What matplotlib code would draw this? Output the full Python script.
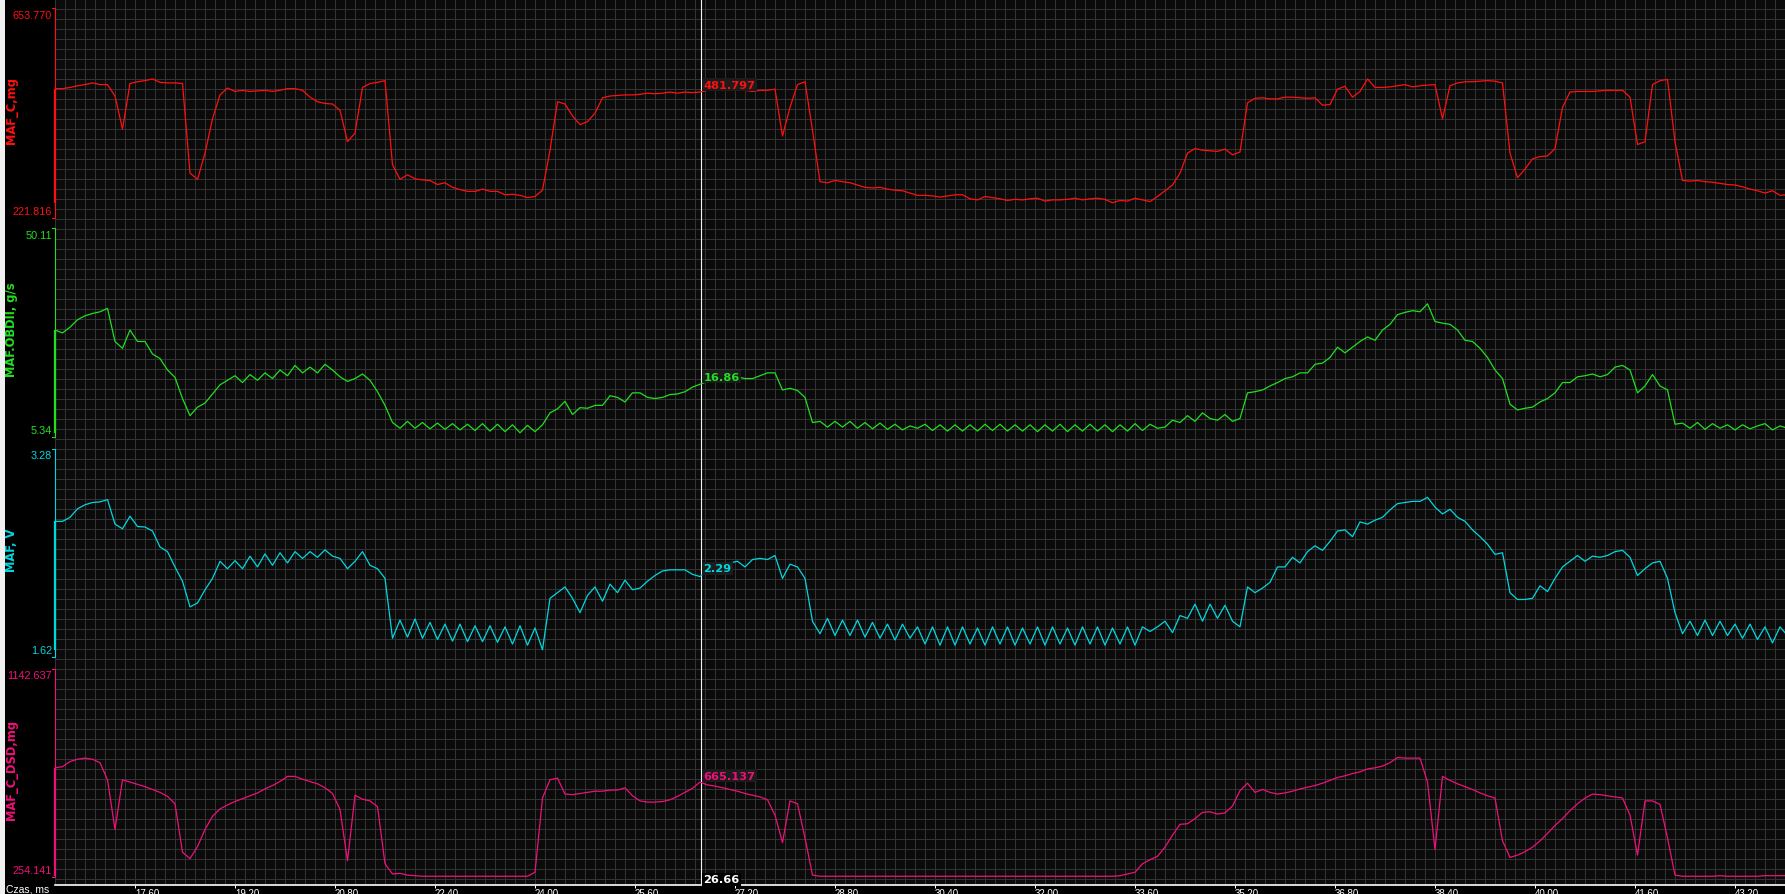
import numpy as np
import matplotlib
matplotlib.use("Agg")
import matplotlib.pyplot as plt
from matplotlib.patches import Rectangle
from matplotlib.transforms import blended_transform_factory

# ---------------- data ----------------
T0 = 16.32      # ms, first sample
DT = 0.12       # ms, sample interval

maf_c = [
    488.3, 488.3, 490.7, 494.2, 496.6, 500.1, 496.6, 496.6, 473.1, 404.9,
    498.9, 502.5, 504.8, 508.3, 501.3, 500.1, 500.1, 498.9, 314.3, 301.4,
    355.5, 426.0, 475.4, 489.5, 482.5, 484.8, 482.5, 483.6, 484.8, 482.5,
    484.8, 488.3, 488.3, 484.8, 470.7, 461.3, 457.8, 456.6, 443.7, 379.0,
    396.6, 490.7, 498.9, 501.3, 504.8, 332.0, 301.4, 310.8, 302.6, 300.2,
    299.1, 290.8, 294.4, 285.0, 280.3, 276.7, 276.7, 281.4, 276.7, 276.7,
    269.7, 270.8, 268.5, 263.8, 266.1, 279.1, 361.4, 461.3, 456.6, 431.9,
    414.3, 420.2, 437.8, 469.5, 473.1, 474.2, 475.4, 475.4, 476.6, 478.9,
    477.8, 478.9, 481.3, 478.9, 481.3, 480.1, 481.3, 484.8, 484.8, 487.2,
    484.8, 488.3, 484.8, 482.5, 484.8, 484.8, 487.2, 390.8, 449.6, 496.6,
    502.5, 402.5, 296.7, 294.4, 299.1, 296.7, 294.4, 289.7, 285.0, 283.8,
    285.0, 281.4, 279.1, 277.9, 273.2, 268.5, 268.5, 267.3, 265.0, 267.3,
    269.7, 269.7, 261.4, 259.1, 266.1, 263.8, 261.4, 257.9, 260.3, 259.1,
    261.4, 262.6, 256.7, 259.1, 259.1, 260.3, 262.6, 259.1, 261.4, 262.6,
    260.3, 253.2, 257.9, 256.7, 262.6, 259.1, 255.6, 266.1, 277.9, 289.7,
    314.3, 355.5, 364.9, 361.4, 360.2, 359.0, 363.7, 352.0, 357.8, 459.0,
    468.4, 469.5, 467.2, 467.2, 470.7, 470.7, 469.5, 468.4, 469.5, 454.3,
    455.4, 487.2, 493.1, 470.7, 482.5, 508.3, 490.7, 490.7, 491.9, 494.2,
    496.6, 491.9, 494.2, 495.4, 496.6, 426.0, 494.2, 500.1, 502.5, 502.5,
    503.6, 504.8, 503.6, 500.1, 355.5, 304.9, 322.6, 343.7, 348.4, 349.6,
    364.9, 449.6, 481.3, 482.5, 482.5, 482.5, 483.6, 484.8, 484.8, 484.8,
    470.7, 373.1, 379.0, 496.6, 504.8, 507.2, 379.0, 299.1, 297.9, 299.1,
    296.7, 295.5, 293.2, 290.8, 289.7, 286.1, 281.4, 277.9, 273.2, 277.9,
    268.5, 269.7,
]

maf_obd = [
    28.31, 27.69, 28.92, 30.51, 31.37, 31.86, 32.23, 32.96, 25.85, 24.38,
    28.31, 25.85, 25.85, 23.16, 22.18, 19.73, 18.13, 13.60, 9.92, 11.76,
    12.62, 14.58, 16.54, 17.52, 18.50, 17.03, 18.75, 17.52, 19.11, 17.89,
    19.73, 18.50, 20.71, 19.11, 20.34, 19.11, 20.95, 19.73, 18.26, 17.27,
    17.89, 18.87, 17.52, 15.07, 12.13, 8.45, 7.22, 8.70, 7.22, 8.45,
    7.10, 8.33, 6.98, 8.21, 6.86, 8.08, 6.73, 8.21, 6.61, 8.08,
    6.49, 7.96, 6.24, 7.84, 6.49, 7.96, 10.53, 11.39, 12.99, 10.17,
    11.64, 11.51, 12.13, 12.13, 14.21, 13.84, 12.86, 14.82, 14.82, 13.84,
    13.60, 13.84, 14.46, 14.58, 15.07, 16.05, 16.66, 17.27, 17.52, 17.89,
    17.52, 18.26, 17.89, 17.89, 18.50, 19.11, 19.11, 15.44, 15.80, 15.31,
    13.84, 8.45, 8.70, 7.47, 8.70, 7.47, 8.70, 7.22, 8.45, 7.10,
    8.33, 6.98, 8.08, 6.86, 7.72, 7.22, 8.08, 6.73, 7.96, 6.61,
    7.96, 6.61, 7.96, 6.61, 8.08, 6.73, 8.08, 6.61, 7.96, 6.61,
    7.96, 6.49, 7.96, 6.61, 8.08, 6.49, 7.96, 6.61, 8.08, 6.61,
    7.96, 6.49, 7.96, 6.61, 8.21, 6.73, 8.08, 7.22, 7.47, 8.94,
    8.45, 9.92, 8.70, 10.53, 9.31, 8.94, 10.17, 8.70, 9.31, 14.82,
    15.07, 15.44, 16.29, 17.03, 17.89, 18.26, 19.11, 19.11, 20.95, 21.20,
    22.42, 24.63, 23.40, 24.63, 25.85, 26.83, 26.10, 28.31, 29.53, 31.61,
    32.10, 32.47, 32.23, 33.94, 30.14, 29.78, 29.53, 28.31, 26.10, 25.85,
    24.38, 22.42, 19.73, 17.89, 12.37, 11.15, 11.51, 11.76, 12.86, 13.60,
    14.82, 17.03, 17.03, 18.26, 18.50, 18.87, 18.26, 18.75, 20.34, 20.71,
    19.73, 14.82, 16.29, 18.75, 16.29, 15.44, 8.08, 8.33, 7.22, 8.45,
    6.98, 8.21, 7.22, 7.96, 6.86, 7.96, 7.10, 7.72, 8.21, 6.86,
    7.72, 7.22,
]

maf_v = [
    2.700, 2.700, 2.732, 2.800, 2.832, 2.850, 2.855, 2.873, 2.678, 2.641,
    2.741, 2.659, 2.655, 2.623, 2.496, 2.459, 2.337, 2.223, 2.019, 2.050,
    2.155, 2.246, 2.382, 2.323, 2.387, 2.323, 2.423, 2.337, 2.441, 2.350,
    2.450, 2.369, 2.459, 2.405, 2.459, 2.414, 2.473, 2.423, 2.405, 2.323,
    2.382, 2.459, 2.350, 2.323, 2.246, 1.769, 1.914, 1.778, 1.923, 1.769,
    1.896, 1.760, 1.882, 1.746, 1.882, 1.742, 1.869, 1.742, 1.869, 1.737,
    1.860, 1.723, 1.869, 1.714, 1.851, 1.678, 2.087, 2.132, 2.178, 2.087,
    1.973, 2.110, 2.178, 2.064, 2.200, 2.132, 2.232, 2.155, 2.169, 2.223,
    2.269, 2.305, 2.314, 2.314, 2.314, 2.278, 2.260, 2.314, 2.337, 2.359,
    2.369, 2.382, 2.337, 2.396, 2.405, 2.396, 2.428, 2.246, 2.359, 2.337,
    2.246, 1.905, 1.805, 1.928, 1.791, 1.914, 1.791, 1.914, 1.778, 1.896,
    1.769, 1.882, 1.755, 1.882, 1.769, 1.860, 1.723, 1.860, 1.714, 1.860,
    1.714, 1.860, 1.723, 1.851, 1.714, 1.860, 1.723, 1.860, 1.714, 1.851,
    1.723, 1.860, 1.714, 1.860, 1.723, 1.851, 1.714, 1.860, 1.723, 1.860,
    1.714, 1.851, 1.723, 1.860, 1.714, 1.860, 1.823, 1.860, 1.905, 1.814,
    1.950, 1.928, 2.041, 1.905, 2.041, 1.928, 2.032, 1.905, 1.860, 2.178,
    2.132, 2.169, 2.214, 2.337, 2.337, 2.414, 2.369, 2.459, 2.505, 2.469,
    2.541, 2.623, 2.632, 2.578, 2.696, 2.678, 2.709, 2.732, 2.791, 2.841,
    2.850, 2.859, 2.859, 2.891, 2.814, 2.759, 2.796, 2.732, 2.700, 2.632,
    2.578, 2.518, 2.437, 2.450, 2.132, 2.078, 2.078, 2.087, 2.187, 2.141,
    2.246, 2.337, 2.382, 2.428, 2.382, 2.423, 2.414, 2.428, 2.459, 2.469,
    2.414, 2.269, 2.323, 2.369, 2.382, 2.246, 1.973, 1.805, 1.905, 1.791,
    1.914, 1.791, 1.905, 1.791, 1.882, 1.769, 1.882, 1.760, 1.860, 1.732,
    1.860, 1.791,
]

maf_dsd = [
    719.4, 724.3, 746.2, 755.9, 760.8, 755.9, 741.3, 668.4, 456.7, 668.4,
    658.6, 648.9, 639.2, 627.0, 614.8, 597.8, 566.2, 359.5, 332.7, 383.8,
    456.7, 512.7, 544.3, 561.4, 575.9, 588.1, 600.3, 612.4, 629.4, 644.0,
    661.1, 682.9, 682.9, 670.8, 661.1, 651.3, 634.3, 610.0, 541.9, 323.0,
    602.7, 585.7, 578.4, 554.0, 310.8, 267.0, 269.5, 262.2, 259.7, 257.3,
    257.3, 257.3, 257.3, 257.3, 257.3, 257.3, 257.3, 257.3, 257.3, 257.3,
    257.3, 257.3, 257.3, 257.3, 274.3, 590.5, 668.4, 675.6, 607.5, 605.1,
    610.0, 614.8, 619.7, 619.7, 624.6, 624.6, 634.3, 600.3, 578.4, 573.5,
    573.5, 575.9, 583.2, 597.8, 614.8, 631.9, 658.6, 646.5, 641.6, 634.3,
    627.0, 619.7, 610.0, 602.7, 595.4, 583.2, 517.6, 400.8, 578.4, 566.2,
    420.3, 262.2, 257.3, 257.3, 257.3, 257.3, 257.3, 257.3, 257.3, 257.3,
    257.3, 257.3, 257.3, 257.3, 257.3, 257.3, 257.3, 257.3, 257.3, 257.3,
    257.3, 257.3, 257.3, 257.3, 257.3, 257.3, 257.3, 257.3, 257.3, 257.3,
    257.3, 257.3, 257.3, 257.3, 257.3, 257.3, 257.3, 257.3, 257.3, 257.3,
    257.3, 257.3, 259.7, 267.0, 274.3, 310.8, 327.8, 342.4, 381.3, 432.4,
    478.6, 481.1, 503.0, 529.7, 532.1, 522.4, 527.3, 556.5, 622.1, 653.8,
    614.8, 627.0, 614.8, 607.5, 612.4, 619.7, 629.4, 636.7, 644.0, 653.8,
    665.9, 678.1, 685.4, 695.1, 702.4, 714.6, 719.4, 726.7, 741.3, 763.2,
    760.8, 760.8, 760.8, 658.6, 371.6, 682.9, 665.9, 651.3, 639.2, 627.0,
    612.4, 600.3, 590.5, 408.1, 337.6, 347.3, 361.9, 381.3, 408.1, 439.7,
    473.8, 503.0, 537.0, 566.2, 590.5, 607.5, 605.1, 600.3, 595.4, 590.5,
    517.6, 347.3, 578.4, 578.4, 563.8, 420.3, 262.2, 257.3, 257.3, 257.3,
    257.3, 257.3, 259.7, 257.3, 257.3, 257.3, 257.3, 257.3, 259.7, 259.7,
    259.7, 259.7,
]

series_names = ["MAF_C,mg", "MAF.OBDII, g/s", "MAF, V", "MAF_C_DSD,mg"]
range_min = [221.816, 5.34, 1.62, 254.141]
range_max = [653.770, 50.11, 3.28, 1142.637]
min_text = ["221.816", "5.34", "1.62", "254.141"]
max_text = ["653.770", "50.11", "3.28", "1142.637"]
cursor_time = 26.66
cursor_text = ["481.797", "16.86", "2.29", "665.137"]
x_ticks = [17.60, 19.20, 20.80, 22.40, 24.00, 25.60, 27.20, 28.80, 30.40,
           32.00, 33.60, 35.20, 36.80, 38.40, 40.00, 41.60, 43.20]
x_label = "Czas, ms"

# ---------------- style / layout ----------------
W, H, DPI = 1785, 895, 100
PT = 72.0 / DPI                      # points per pixel
colors = ["#ff1010", "#20e020", "#00d8e0", "#f0107a"]
GRID = "#333333"
PLOT_L, PLOT_R, PLOT_B = 55, 1785, 886
bands = [(0, 220), (220, 440), (440, 660), (660, 886)]
brackets = [(9.3, 219.0), (229.5, 438.0), (449.5, 658.0), (669.5, 878.0)]
MS_PER_PX = 0.016
xlim = (T0, T0 + (PLOT_R - PLOT_L) * MS_PER_PX)
plot_w = PLOT_R - PLOT_L

fig = plt.figure(figsize=(W / DPI, H / DPI), dpi=DPI, facecolor="black")
fig.add_artist(Rectangle((0, 0), 5 / W, 1, transform=fig.transFigure,
                         facecolor="#f0f0f0", edgecolor="none"))

# background axes: grid, time axis, cursor
bg = fig.add_axes([PLOT_L / W, 1 - PLOT_B / H, plot_w / W, PLOT_B / H])
bg.set_facecolor("#0b0b0b")
bg.set_xlim(*xlim)
bg.set_ylim(PLOT_B, 0)
bg.set_xticks(x_ticks)
bg.set_xticklabels([f"{t:.2f}" for t in x_ticks])
bg.set_xticks(np.arange(T0, xlim[1], 0.16), minor=True)
bg.set_yticks(np.arange(9.5, PLOT_B, 10))
bg.set_yticklabels([])
bg.tick_params(axis="y", length=0)
bg.tick_params(axis="x", which="minor", length=0)
bg.tick_params(axis="x", which="major", length=3 * PT, width=1 * PT,
               color="white", direction="out", pad=0.0,
               labelsize=7.0, labelcolor="white")
for lab in bg.get_xticklabels():
    lab.set_ha("left")
    lab.set_fontfamily("Liberation Sans")
bg.grid(True, which="both", color=GRID, lw=0.72)
for s in ("top", "left", "right"):
    bg.spines[s].set_visible(False)
bg.spines["bottom"].set_color("white")
bg.spines["bottom"].set_linewidth(1.2)
bg.axvline(cursor_time, color="#f2f2f2", lw=0.8, zorder=3)
bg.annotate(f"{cursor_time:.2f}", xy=(cursor_time, PLOT_B), xycoords="data",
            xytext=(2 * PT, 5.5 * PT), textcoords="offset points",
            ha="left", va="center", color="white", fontsize=8.2,
            fontweight="bold", family="DejaVu Sans",
            bbox=dict(boxstyle="square,pad=0.1", fc="black", ec="none"),
            zorder=6, annotation_clip=False)

fig.text(6 / W, 1 - 890 / H, x_label, ha="left", va="center", color="white",
         fontsize=7.5, family="Liberation Sans")

all_series = [maf_c, maf_obd, maf_v, maf_dsd]
for k in range(4):
    y0, y1 = bands[k]
    top_px, bot_px = brackets[k]
    vmin, vmax = range_min[k], range_max[k]
    c = colors[k]
    ax = fig.add_axes([PLOT_L / W, 1 - y1 / H, plot_w / W, (y1 - y0) / H])
    ax.set_facecolor("none")
    ax.set_axis_off()
    scale = (vmax - vmin) / (bot_px - top_px)
    ax.set_xlim(*xlim)
    ax.set_ylim(vmin - (y1 - bot_px) * scale, vmax + (top_px - y0) * scale)

    vals = np.asarray(all_series[k], dtype=float)
    t = T0 + DT * np.arange(len(vals))
    ax.plot(t, vals, color=c, lw=0.9, zorder=4)

    trans = blended_transform_factory(ax.transAxes, ax.transData)
    dx = 3.0 / plot_w
    ax.plot([-dx, -0.3 / plot_w, -0.3 / plot_w, -dx], [vmax, vmax, vmin, vmin],
            transform=trans, color=c, lw=0.8, clip_on=False)
    ax.plot([0, 0], [vals.min(), vals[0]], transform=trans, color=c,
            lw=1.6, clip_on=False, solid_capstyle="butt")

    ax.annotate(max_text[k], xy=(-dx, vmax), xycoords=trans,
                xytext=(0, -6.7 * PT), textcoords="offset points",
                ha="right", va="center", color=c, fontsize=7.8,
                family="Liberation Sans", annotation_clip=False)
    ax.annotate(min_text[k], xy=(-dx, vmin), xycoords=trans,
                xytext=(0, 7 * PT), textcoords="offset points",
                ha="right", va="center", color=c, fontsize=7.8,
                family="Liberation Sans", annotation_clip=False)

    fig.text(11.7 / W, 1 - (y0 + 110) / H, series_names[k], rotation=90,
             ha="center", va="center", color=c, fontsize=8.3,
             fontweight="bold", family="DejaVu Sans")

    v_cur = np.interp(cursor_time, t, vals)
    ax.annotate(cursor_text[k], xy=(cursor_time, v_cur), xycoords="data",
                xytext=(2 * PT, 7 * PT), textcoords="offset points",
                ha="left", va="center", color=c, fontsize=8.2,
                fontweight="bold", family="DejaVu Sans",
                bbox=dict(boxstyle="square,pad=0.12", fc="#1c1c1c", ec="none"),
                zorder=6)

fig.savefig("out.png", dpi=DPI, facecolor="black")
